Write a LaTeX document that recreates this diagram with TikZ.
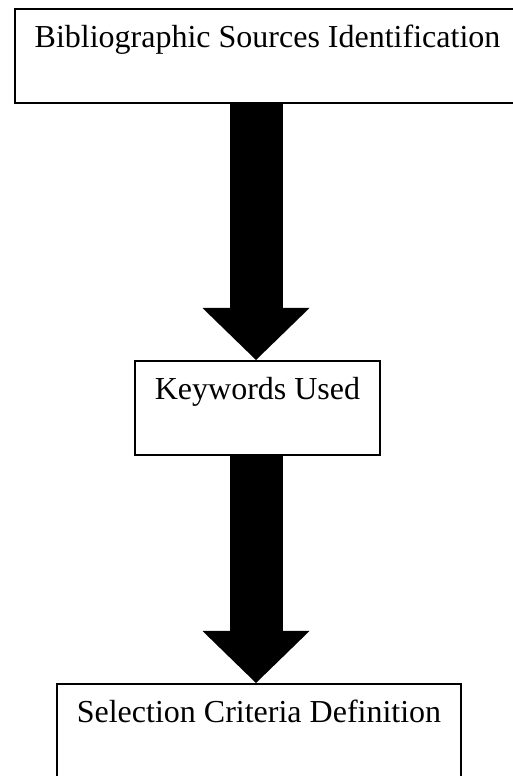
\documentclass[tikz,border=0pt]{standalone}
\usepackage{fontspec}
\setmainfont{Liberation Serif}
\usetikzlibrary{arrows.meta}

\begin{document}
\begin{tikzpicture}[x=1pt, y=1pt,
		main node/.style={draw, line width=2pt, inner xsep=0pt, inner ysep=10pt,
			text height=29pt, text depth=45pt, anchor=base,
			font=\fontsize{32}{38}\selectfont},
		big arrow/.style={line width=53pt,
			-{Triangle[length=52pt, width=107pt, line width=0pt]}}]
		
		\useasboundingbox (0,0) rectangle (513,776);
		\clip (0,0) rectangle (513,776);
		
		\node[main node, minimum width=505pt] (sources) at (267.5,728) {Bibliographic Sources Identification};
		\node[main node, minimum width=245pt] (keywords) at (257.5,376) {Keywords Used};
		\node[main node, minimum width=404pt] (criteria) at (259,53) {Selection Criteria Definition};
		
		\draw[big arrow] (256,0 |- sources.south) -- (256,0 |- keywords.north);
		\draw[big arrow] (256,0 |- keywords.south) -- (256,0 |- criteria.north);
		\end{tikzpicture}
\end{document}
